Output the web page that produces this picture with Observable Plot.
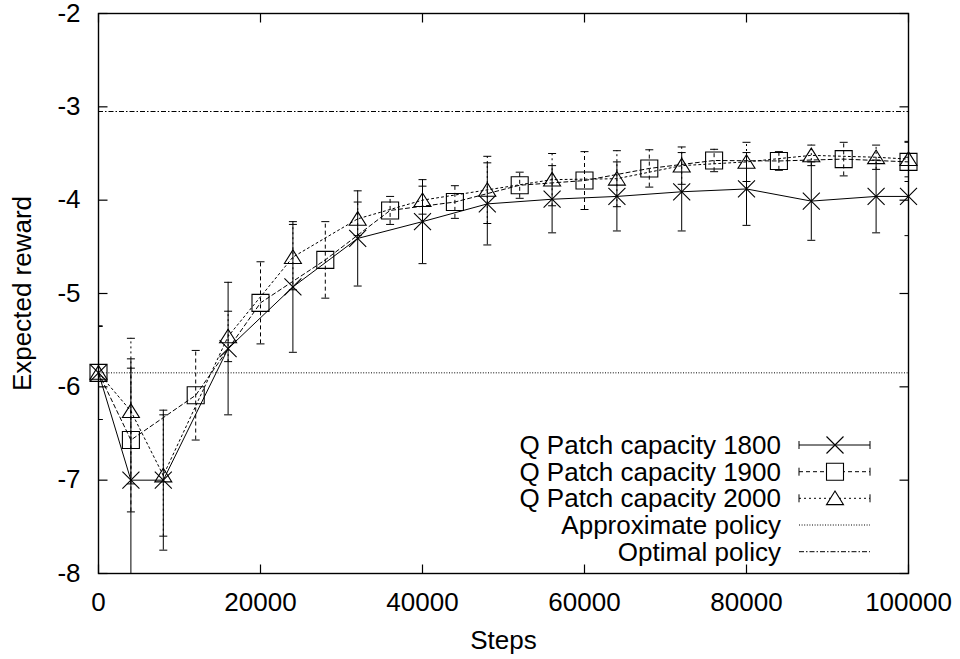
<!DOCTYPE html>
<html>
<head>
<meta charset="utf-8">
<script src="https://cdn.jsdelivr.net/npm/d3@7"></script>
<script src="https://cdn.jsdelivr.net/npm/@observablehq/plot@0.6"></script>
<style>
  html, body { margin: 0; padding: 0; background: #fff; }
</style>
</head>
<body>
<div id="chart"></div>
<script>
// ---- data ----
const seriesNames = ["Q Patch capacity 1800", "Q Patch capacity 1900", "Q Patch capacity 2000"];

const steps1800 = [0, 4000, 8000, 16000, 24000, 32000, 40000, 48000, 56000, 64000, 72000, 80000, 88000, 96000, 100000];
const reward1800 = [-5.85, -7.00, -7.00, -5.59, -4.93, -4.41, -4.23, -4.04, -3.99, -3.96, -3.91, -3.88, -4.01, -3.96, -3.96];
const err1800 = [0.50, 1.30, 0.75, 0.71, 0.70, 0.51, 0.45, 0.44, 0.36, 0.37, 0.42, 0.39, 0.42, 0.39, 0.42];

const steps1900 = [0, 4000, 12000, 20000, 28000, 36000, 44000, 52000, 60000, 68000, 76000, 84000, 92000, 100000];
const reward1900 = [-5.85, -6.57, -6.09, -5.10, -4.64, -4.11, -4.02, -3.84, -3.79, -3.66, -3.575, -3.58, -3.56, -3.59];
const err1900 = [0.50, 0.77, 0.48, 0.44, 0.41, 0.15, 0.175, 0.14, 0.31, 0.20, 0.12, 0.10, 0.18, 0.21];

const steps2000 = [0, 4000, 8000, 16000, 24000, 32000, 40000, 48000, 56000, 64000, 72000, 80000, 88000, 96000, 100000];
const reward2000 = [-5.85, -6.26, -6.95, -5.46, -4.61, -4.20, -4.00, -3.89, -3.78, -3.77, -3.63, -3.59, -3.52, -3.54, -3.56];
const err2000 = [0.50, 0.78, 0.65, 0.27, 0.35, 0.18, 0.15, 0.36, 0.28, 0.30, 0.20, 0.21, 0.11, 0.13, 0.19];

const approximatePolicy = -5.85;
const optimalPolicy = -3.05;

const xTicks = [0, 20000, 40000, 60000, 80000, 100000];
const yTicks = [-8, -7, -6, -5, -4, -3, -2];
const xLabel = "Steps";
const yLabel = "Expected reward";
const refNames = ["Approximate policy", "Optimal policy"];

// ---- styles ----
const dashes = ["none", "4,3", "2,3"];
const approxDash = "1,1.6";
const optimalDash = "5,2,1.5,2";
const FONT = "'Liberation Sans', Arial, Helvetica, sans-serif";

// ---- custom symbols ----
const rad = (size) => Math.sqrt(size / Math.PI);
const symCross = { draw(c, s) { const r = rad(s); c.moveTo(-r, -r); c.lineTo(r, r); c.moveTo(-r, r); c.lineTo(r, -r); } };
const symSquare = { draw(c, s) { const r = rad(s); c.moveTo(-r, -r); c.lineTo(r, -r); c.lineTo(r, r); c.lineTo(-r, r); c.closePath(); } };
const symTriangle = { draw(c, s) { const r = rad(s); c.moveTo(0, -r * 0.85); c.lineTo(r, r * 0.75); c.lineTo(-r, r * 0.75); c.closePath(); } };
const symCap = { draw(c, s) { const r = rad(s); c.moveTo(-r, 0); c.lineTo(r, 0); } };
const tickUp = { draw(c) { c.moveTo(0, 0); c.lineTo(0, -9); } };
const tickDown = { draw(c) { c.moveTo(0, 0); c.lineTo(0, 9); } };
const tickRight = { draw(c) { c.moveTo(0, 0); c.lineTo(9, 0); } };
const tickLeft = { draw(c) { c.moveTo(0, 0); c.lineTo(-9, 0); } };
const symbols = [symCross, symSquare, symTriangle];

function build(steps, reward, err) {
  return steps.map((s, i) => ({ step: s, reward: reward[i], lo: reward[i] - err[i], hi: reward[i] + err[i] }));
}
const tables = [
  build(steps1800, reward1800, err1800),
  build(steps1900, reward1900, err1900),
  build(steps2000, reward2000, err2000)
];

const marks = [];
// reference lines
marks.push(Plot.ruleY([approximatePolicy], { stroke: "black", strokeWidth: 1, strokeDasharray: approxDash }));
marks.push(Plot.ruleY([optimalPolicy], { stroke: "black", strokeWidth: 1, strokeDasharray: optimalDash }));

tables.forEach((t, k) => {
  const dash = dashes[k];
  marks.push(Plot.ruleX(t, { x: "step", y1: "lo", y2: "hi", stroke: "black", strokeWidth: 1, strokeDasharray: dash, clip: true }));
  marks.push(Plot.dot(t, { x: "step", y: "lo", symbol: symCap, r: 4, stroke: "black", strokeWidth: 1, fill: "none", clip: true }));
  marks.push(Plot.dot(t, { x: "step", y: "hi", symbol: symCap, r: 4, stroke: "black", strokeWidth: 1, fill: "none", clip: true }));
  marks.push(Plot.line(t, { x: "step", y: "reward", stroke: "black", strokeWidth: 1, strokeDasharray: dash }));
  marks.push(Plot.dot(t, { x: "step", y: "reward", symbol: symbols[k], r: 8.5, stroke: "black", strokeWidth: 1.1, fill: "none" }));
});

// inward mirrored ticks
marks.push(Plot.dot(xTicks, { x: d => d, y: () => -8, symbol: tickUp, r: 1, stroke: "black", strokeWidth: 1.2 }));
marks.push(Plot.dot(xTicks, { x: d => d, y: () => -2, symbol: tickDown, r: 1, stroke: "black", strokeWidth: 1.2 }));
marks.push(Plot.dot(yTicks, { x: () => 0, y: d => d, symbol: tickRight, r: 1, stroke: "black", strokeWidth: 1.2 }));
marks.push(Plot.dot(yTicks, { x: () => 100000, y: d => d, symbol: tickLeft, r: 1, stroke: "black", strokeWidth: 1.2 }));

marks.push(Plot.axisX(xTicks, { tickSize: 0, tickPadding: 19, tickFormat: d => String(d), label: null }));
marks.push(Plot.axisY(yTicks, { tickSize: 0, tickPadding: 18, tickFormat: d => String(d), label: null }));
marks.push(Plot.frame({ stroke: "black", strokeWidth: 1.4 }));
marks.push(Plot.text([xLabel], { frameAnchor: "bottom", dy: 67, text: d => d, fill: "black", textAnchor: "middle", lineAnchor: "middle" }));
marks.push(Plot.text([yLabel], { frameAnchor: "left", dx: -76, rotate: -90, text: d => d, fill: "black", textAnchor: "middle", lineAnchor: "middle" }));

const svg = Plot.plot({
  width: 960,
  height: 659,
  marginLeft: 98,
  marginRight: 52,
  marginTop: 13,
  marginBottom: 86,
  style: { fontFamily: FONT, fontSize: "26px", color: "black", background: "white" },
  x: { domain: [0, 100000] },
  y: { domain: [-8, -2] },
  marks
});

// ---- legend (inside plot, bottom right) ----
const g = d3.select(svg).append("g")
  .attr("font-family", FONT)
  .attr("font-size", 26);
const textRight = 781, x0 = 799, x1 = 870, xm = 835;
const rowY = [445, 471.7, 498.3, 525, 551.7];
const legendItems = [
  { name: seriesNames[0], dash: dashes[0], sym: symCross, err: true },
  { name: seriesNames[1], dash: dashes[1], sym: symSquare, err: true },
  { name: seriesNames[2], dash: dashes[2], sym: symTriangle, err: true },
  { name: refNames[0], dash: approxDash, sym: null, err: false },
  { name: refNames[1], dash: optimalDash, sym: null, err: false }
];
legendItems.forEach((it, i) => {
  const y = rowY[i];
  g.append("text").attr("x", textRight).attr("y", y).attr("dy", "0.35em")
    .attr("text-anchor", "end").attr("fill", "black").text(it.name);
  g.append("line").attr("x1", x0).attr("x2", x1).attr("y1", y).attr("y2", y)
    .attr("stroke", "black").attr("stroke-width", 1)
    .attr("stroke-dasharray", it.dash === "none" ? null : it.dash);
  if (it.err) {
    [x0, x1].forEach(x => g.append("line").attr("x1", x).attr("x2", x)
      .attr("y1", y - 4).attr("y2", y + 4).attr("stroke", "black").attr("stroke-width", 1));
  }
  if (it.sym) {
    const p = d3.path();
    it.sym.draw(p, 8.5 * 8.5 * Math.PI);
    g.append("path").attr("d", p.toString()).attr("transform", `translate(${xm},${y})`)
      .attr("fill", "white").attr("stroke", "black").attr("stroke-width", 1.1);
  }
});

document.getElementById("chart").appendChild(svg);
</script>
</body>
</html>
